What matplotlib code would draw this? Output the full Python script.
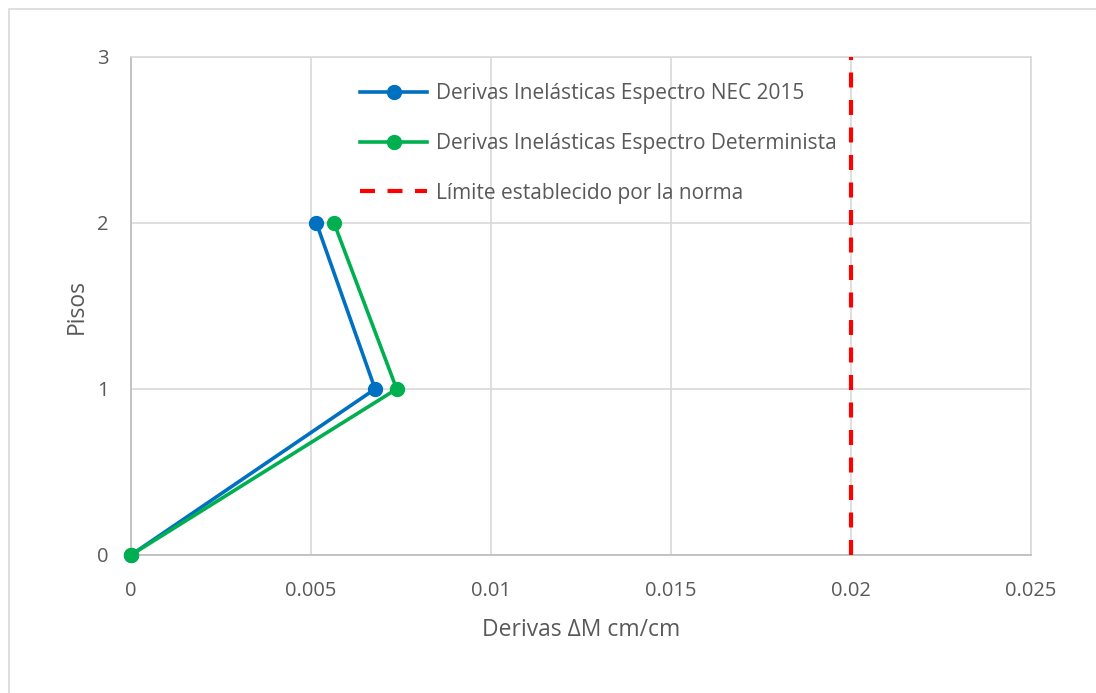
import matplotlib.pyplot as plt
from matplotlib.patches import Rectangle

# data
pisos = [0, 1, 2]
deriva_nec = [0.0, 0.00678, 0.00515]
deriva_det = [0.0, 0.00738, 0.00564]
limite_x = [0.02, 0.02]
limite_y = [0, 3]

xticks = [0, 0.005, 0.01, 0.015, 0.02, 0.025]
xticklabels = ['0', '0.005', '0.01', '0.015', '0.02', '0.025']
yticks = [0, 1, 2, 3]

plt.rcParams['font.family'] = ['Open Sans', 'DejaVu Sans']
gris = '#595959'

fig = plt.figure(figsize=(10.96, 6.93), dpi=100)
ax = fig.add_axes([131 / 1096, 1 - 555 / 693, 900 / 1096, 498 / 693])

ax.plot(deriva_nec, pisos, color='#0070C0', linewidth=2.6, marker='o',
        markersize=10, label='Derivas Inelásticas Espectro NEC 2015',
        zorder=4, clip_on=False)
ax.plot(deriva_det, pisos, color='#00B050', linewidth=2.6, marker='o',
        markersize=10, label='Derivas Inelásticas Espectro Determinista',
        zorder=5, clip_on=False)
ax.plot(limite_x, limite_y, color='#FF0000', linewidth=3, linestyle=(0, (3.6, 3.0)),
        label='Límite establecido por la norma', zorder=3)

ax.set_xlim(0, 0.025)
ax.set_ylim(0, 3)
ax.set_xticks(xticks)
ax.set_xticklabels(xticklabels)
ax.set_yticks(yticks)
ax.grid(True, color='#d9d9d9', linewidth=1.2, zorder=0)
ax.set_axisbelow(True)
ax.tick_params(length=0, labelsize=14.5, labelcolor=gris)
ax.tick_params(axis='x', pad=19)
ax.tick_params(axis='y', pad=16)
for s in ['top', 'right']:
    ax.spines[s].set_color('#d9d9d9')
    ax.spines[s].set_linewidth(1.2)
for s in ['left', 'bottom']:
    ax.spines[s].set_color('#bfbfbf')
    ax.spines[s].set_linewidth(1.3)

ax.set_xlabel('Derivas ΔM cm/cm', fontsize=16.5, color=gris, labelpad=12)
ax.set_ylabel('Pisos', fontsize=16.5, color=gris, labelpad=6)

leg = ax.legend(loc='upper left', bbox_to_anchor=(0.234, 0.985), frameon=False,
                fontsize=15, labelspacing=1.38, handlelength=3.2, handletextpad=0.45)
for t in leg.get_texts():
    t.set_color(gris)

fig.patches.append(Rectangle((9 / 1096, -0.01), 1.02, 1 - 9 / 693 + 0.01,
                             transform=fig.transFigure, fill=False,
                             edgecolor='#d9d9d9', linewidth=1.2))

fig.savefig('out.png', dpi=100)
plt.close()
